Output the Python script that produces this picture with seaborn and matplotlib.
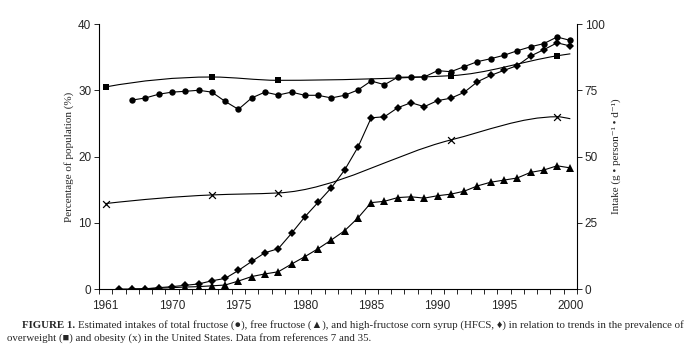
"""
Fructose intake vs. overweight/obesity prevalence, US 1961-2000.
Categorical x axis (Excel style), two y axes, caption below the plot.
"""
import matplotlib
matplotlib.use("Agg")
import matplotlib.pyplot as plt
from matplotlib.path import Path
from matplotlib.patches import PathPatch
import numpy as np
import pandas as pd
import seaborn as sns

# categories on the x axis
years = [1961, 1966, 1967, 1968, 1969, 1970, 1971, 1972, 1973, 1974, 1975,
         1976, 1977, 1978, 1979, 1980, 1981, 1982, 1983, 1984, 1985, 1986,
         1987, 1988, 1989, 1990, 1991, 1992, 1993, 1994, 1995, 1996, 1997,
         1998, 1999, 2000]
year_labels = {1961: "1961", 1970: "1970", 1975: "1975", 1980: "1980",
               1985: "1985", 1990: "1990", 1995: "1995", 2000: "2000"}

# intake, g/person/d (right axis)
total_years = years[2:]
total_fructose = [71.3, 72.1, 73.5, 74.3, 74.6, 75.0, 74.3, 70.8, 67.8, 72.1,
                  74.3, 73.2, 74.3, 73.1, 73.1, 72.1, 73.1, 75.1, 78.5, 77.1,
                  79.9, 80.0, 80.0, 82.4, 82.0, 83.9, 85.8, 86.9, 88.2, 89.9,
                  91.4, 92.6, 95.1, 93.8]
free_years = years[2:]
free_fructose = [0.0, 0.1, 0.3, 0.5, 0.75, 0.9, 1.2, 1.5, 3.0, 4.7,
                 5.7, 6.5, 9.4, 12.2, 15.2, 18.5, 22.0, 26.8, 32.6, 33.1,
                 34.5, 34.8, 34.3, 35.2, 35.8, 36.9, 38.9, 40.3, 41.1, 41.9,
                 44.0, 44.9, 46.5, 45.7]
hfcs_years = years[1:]
hfcs = [0.0, 0.0, 0.1, 0.5, 0.9, 1.4, 1.9, 3.1, 4.0, 7.0,
        10.4, 13.7, 15.2, 21.0, 27.2, 32.7, 38.2, 44.9, 53.5, 64.6,
        65.0, 68.4, 70.3, 68.8, 71.1, 72.0, 74.2, 78.2, 80.6, 82.5,
        84.3, 87.9, 90.3, 92.9, 91.7]

# prevalence, % of population (left axis); last point of each has no marker
survey_years = [1961, 1973, 1978, 1991, 1999, 2000]
overweight = [30.5, 32.0, 31.5, 32.2, 35.2, 35.5]
obesity = [12.9, 14.2, 14.5, 22.5, 26.0, 25.7]

pos = {y: i for i, y in enumerate(years)}


def smooth_patch(xs, ys, **kw):
    # smoothed line through the points: monotone cubic Hermite drawn as Beziers
    x = np.asarray(xs, float)
    y = np.asarray(ys, float)
    h = np.diff(x)
    delta = np.diff(y) / h
    n = len(x)
    m = np.zeros(n)
    for k in range(1, n - 1):
        if delta[k - 1] * delta[k] > 0:
            w1 = 2 * h[k] + h[k - 1]
            w2 = h[k] + 2 * h[k - 1]
            m[k] = (w1 + w2) / (w1 / delta[k - 1] + w2 / delta[k])
    m[0] = ((2 * h[0] + h[1]) * delta[0] - h[0] * delta[1]) / (h[0] + h[1])
    m[-1] = ((2 * h[-1] + h[-2]) * delta[-1] - h[-1] * delta[-2]) / (h[-1] + h[-2])
    verts = [(x[0], y[0])]
    codes = [Path.MOVETO]
    for k in range(n - 1):
        verts += [(x[k] + h[k] / 3, y[k] + m[k] * h[k] / 3),
                  (x[k + 1] - h[k] / 3, y[k + 1] - m[k + 1] * h[k] / 3),
                  (x[k + 1], y[k + 1])]
        codes += [Path.CURVE4] * 3
    return PathPatch(Path(verts, codes), fill=False, **kw)


sns.set_style("white")
plt.rcParams["font.family"] = ["Liberation Sans", "DejaVu Sans"]

fig = plt.figure(figsize=(6.85, 3.51), dpi=100)
ax = fig.add_axes([0.1445, 0.1766, 0.6978, 0.7550])
ax2 = ax.twinx()

lw = 0.8
# prevalence series (left axis)
ow_x = [pos[y] for y in survey_years]
ax.add_patch(smooth_patch(ow_x, overweight, edgecolor="black", lw=lw))
ax.add_patch(smooth_patch(ow_x, obesity, edgecolor="black", lw=lw))
sns.scatterplot(x=ow_x[:-1], y=overweight[:-1], ax=ax, marker="s", s=19,
                color="black", edgecolor="black", linewidth=0)
sns.scatterplot(x=ow_x[:-1], y=obesity[:-1], ax=ax, marker="x", s=24,
                color="black", linewidth=0.9)

# intake series (right axis)
intake = pd.concat([
    pd.DataFrame({"x": [pos[y] for y in total_years], "v": total_fructose, "s": "total"}),
    pd.DataFrame({"x": [pos[y] for y in free_years], "v": free_fructose, "s": "free"}),
    pd.DataFrame({"x": [pos[y] for y in hfcs_years], "v": hfcs, "s": "hfcs"}),
])
styles = {"total": ("o", 4.6), "free": ("^", 5.2), "hfcs": ("D", 4.0)}
for name, (mk, ms) in styles.items():
    d = intake[intake["s"] == name]
    sns.lineplot(data=d, x="x", y="v", ax=ax2, color="black", lw=lw,
                 marker=mk, markersize=ms, markeredgewidth=0, sort=True)

# axes
ax.set_xlim(-0.5, len(years) - 0.5)
ax.set_ylim(0, 40)
ax2.set_ylim(0, 100)
ax.set_yticks([0, 10, 20, 30, 40])
ax2.set_yticks([0, 25, 50, 75, 100])
ax.set_xticks([pos[y] for y in year_labels])
ax.set_xticklabels(list(year_labels.values()))
ax.set_xticks(np.arange(-0.5, len(years)), minor=True)
ax.tick_params(axis="x", which="major", length=0, labelsize=8.5, pad=8)
ax.tick_params(axis="x", which="minor", length=3.5, width=0.7, direction="out",
               bottom=True)
ax.tick_params(axis="y", length=3.5, width=0.7, direction="out", labelsize=8.5,
               left=True, pad=2)
ax2.tick_params(axis="y", length=3.5, width=0.7, direction="out", labelsize=8.5,
                right=True, pad=2)
for a in (ax, ax2):
    a.spines["top"].set_visible(False)
    for s in ("left", "right", "bottom"):
        a.spines[s].set_linewidth(0.8)
        a.spines[s].set_color("black")
ax.spines["right"].set_visible(False)
ax2.spines["left"].set_visible(False)
ax2.spines["bottom"].set_visible(False)

serif = ["Liberation Serif", "DejaVu Sans"]
ax.set_xlabel("")
ax.set_ylabel("Percentage of population (%)", family=serif, fontsize=8, labelpad=3)
ax2.set_xlabel("")
ax2.set_ylabel("Intake (g \u2022 person\u207b\u00b9 \u2022 d\u207b\u00b9)", family=serif,
               fontsize=8, labelpad=5)

# caption
cap_size = 7.85
t1 = fig.text(22 / 685, 1 - 325 / 351, "FIGURE 1.", family=serif,
              fontsize=cap_size, weight="bold", va="center")
fig.canvas.draw()
bb = t1.get_window_extent()
x_end = bb.x1 / fig.bbox.width
fig.text(x_end + 0.004, 1 - 325 / 351,
         "Estimated intakes of total fructose (\u25cf), free fructose (\u25b2), and "
         "high-fructose corn syrup (HFCS, \u2666) in relation to trends in the "
         "prevalence of", family=serif, fontsize=cap_size, va="center")
fig.text(7 / 685, 1 - 338 / 351,
         "overweight (\u25a0) and obesity (x) in the United States. Data from "
         "references 7 and 35.", family=serif, fontsize=cap_size, va="center")

fig.savefig("out.png", dpi=100)
